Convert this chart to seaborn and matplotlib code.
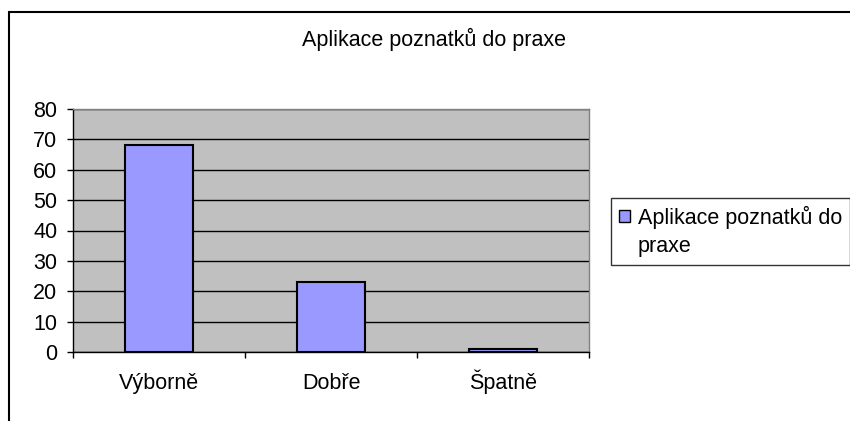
import pandas as pd
import seaborn as sns
import matplotlib.pyplot as plt
from matplotlib.patches import Rectangle, Patch

categories = ['Výborně', 'Dobře', 'Špatně']
values = [68, 23, 1]
series_name = 'Aplikace poznatků do praxe'
legend_lines = ['Aplikace poznatků do', 'praxe']

df = pd.DataFrame({'Hodnoceni': categories, 'Pocet': values})

sns.set_style('white')
plt.rcParams['font.family'] = ['Liberation Sans', 'DejaVu Sans']
plt.rcParams['text.color'] = 'black'
plt.rcParams['xtick.color'] = 'black'
plt.rcParams['ytick.color'] = 'black'

fs = 15.5

fig = plt.figure(figsize=(8.5, 4.21), dpi=100)
ax = fig.add_axes([73 / 850, 1 - 352 / 421, (589 - 73) / 850, (352 - 109) / 421])
ax.set_facecolor('#C0C0C0')

sns.barplot(data=df, x='Hodnoceni', y='Pocet', color='#9999FF', width=0.39,
            edgecolor='black', linewidth=1.5, saturation=1, ax=ax, zorder=3)

ax.set_ylim(0, 80)
ax.set_xlim(-0.5, 2.5)
ax.set_yticks(range(0, 81, 10))
ax.yaxis.grid(True, color='black', linewidth=1)
ax.set_axisbelow(True)
ax.set_xlabel('')
ax.set_ylabel('')

# tick marks at the category boundaries, labels at the centres
ax.set_xticks([-0.5, 0.5, 1.5, 2.5], minor=True)
ax.tick_params(axis='x', which='major', length=0, labelsize=fs, pad=26.5)
ax.tick_params(axis='x', which='minor', bottom=True, length=4, width=1, direction='out')
ax.tick_params(axis='y', left=True, length=4.3, width=1, direction='out', labelsize=fs, pad=7)
for lab in ax.get_xticklabels():
    lab.set_verticalalignment('baseline')

for side in ['left', 'bottom']:
    ax.spines[side].set_color('black')
    ax.spines[side].set_linewidth(1)
for side in ['top', 'right']:
    ax.spines[side].set_color('#808080')
    ax.spines[side].set_linewidth(1)

fig.text(434 / 850, 1 - 46 / 421, series_name, ha='center', va='baseline', fontsize=fs)

# legend: marker only on the first line, second line is the wrapped text
handles = [Patch(facecolor='#9999FF', edgecolor='black', linewidth=1),
           Patch(facecolor='none', edgecolor='none')]
leg = fig.legend(handles, legend_lines, loc='upper left',
                 bbox_to_anchor=(611 / 850, 1 - 198 / 421), fontsize=fs,
                 frameon=True, fancybox=False, handlelength=0.55, handleheight=0.5,
                 handletextpad=0.35, borderpad=0.35, labelspacing=0.35, borderaxespad=0)
leg.get_frame().set_edgecolor('black')
leg.get_frame().set_linewidth(1)

# outer chart border
fig.add_artist(Rectangle((8.5 / 850, -0.1), 1.2, 1 - 12 / 421 + 0.1,
                         transform=fig.transFigure, fill=False,
                         edgecolor='black', linewidth=1.5))

fig.savefig('out.png', dpi=100, facecolor='white')
